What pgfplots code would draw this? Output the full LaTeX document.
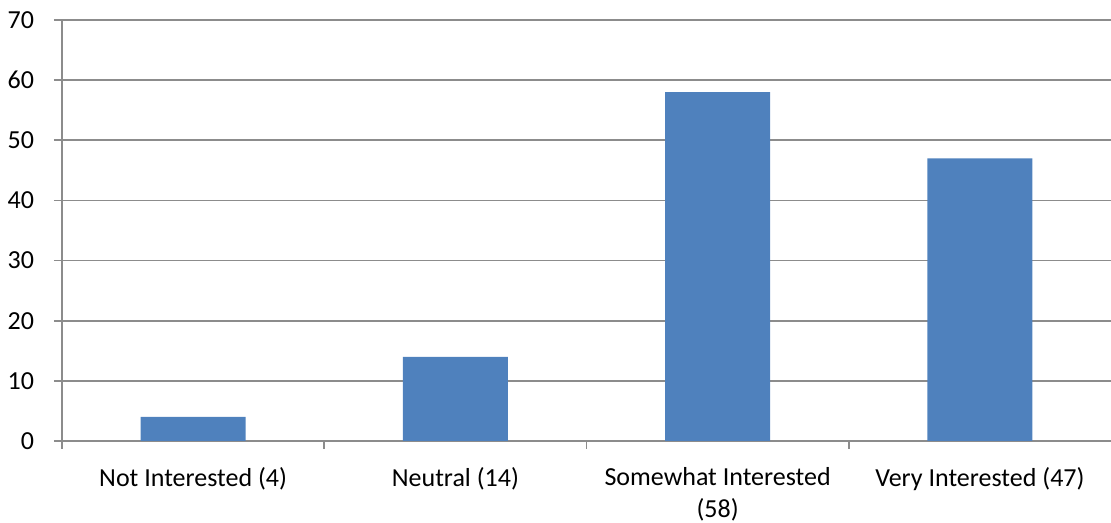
\documentclass[border=0pt]{standalone}
\usepackage{fontspec}
\setmainfont{Carlito}
\usepackage{pgfplots}
\pgfplotsset{compat=1.18}
\definecolor{barblue}{HTML}{4F81BD}
\definecolor{gridgray}{HTML}{8C8C8C}
\begin{document}
\begin{tikzpicture}
\begin{axis}[
    scale only axis,
    width=524.5pt, height=210.5pt,
    font=\fontsize{13pt}{16pt}\selectfont,
    /pgf/number format/assume math mode=true,
    xmin=-0.5, xmax=3.5,
    ymin=0, ymax=70,
    ytick={0,10,...,70},
    xtick={0,1,2,3},
    xticklabels={Not Interested (4), Neutral (14), Somewhat Interested\\(58), Very Interested (47)},
    xticklabel style={align=center, yshift=-5.5pt},
    minor xtick={-0.5,0.5,1.5,2.5},
    axis lines*=left,
    axis line style={gridgray, line width=0.9pt},
    tick align=outside,
    major tick length=4pt,
    minor tick length=4pt,
    x tick style={draw=none},
    minor x tick style={draw=gridgray, line width=0.9pt},
    y tick style={gridgray, line width=0.9pt},
    ymajorgrids,
    grid style={gridgray, line width=0.9pt},
    yticklabel style={xshift=-6.5pt},
    clip=false,
]
\addplot[ybar, bar width=52.5pt, fill=barblue, draw=none] coordinates {
    (0,4) (1,14) (2,58) (3,47)
};
\end{axis}
\pgfresetboundingbox
\useasboundingbox ([xshift=-31pt,yshift=-41pt]current axis.south west) rectangle ([yshift=10pt]current axis.north east);
\end{tikzpicture}
\end{document}
